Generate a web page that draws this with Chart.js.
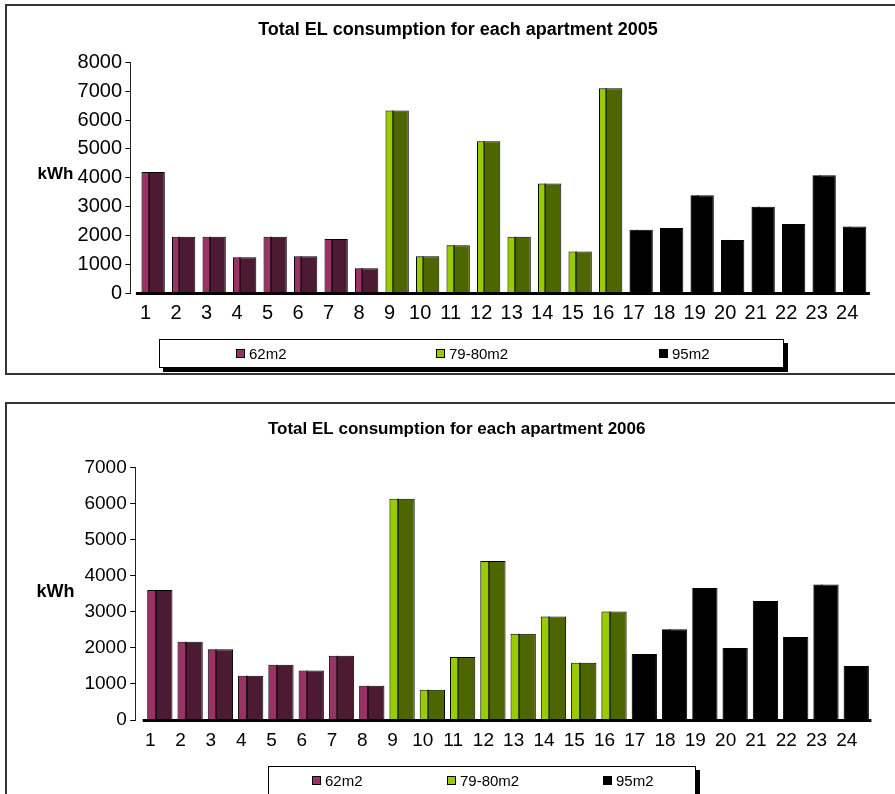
<!DOCTYPE html>
<html>
<head>
<meta charset="utf-8">
<title>Total EL consumption for each apartment</title>
<script src="https://cdn.jsdelivr.net/npm/chart.js@4.4.1/dist/chart.umd.min.js"></script>
<style>
  html, body { margin: 0; padding: 0; background: #fff; }
  body { width: 895px; height: 794px; overflow: hidden; position: relative;
         font-family: 'Liberation Sans', Arial, sans-serif; }
  .frame { position: absolute; left: 5px; width: 1000px; border: 2px solid #333;
           border-right: none; box-sizing: border-box; }
  #frame2005 { top: 4px; height: 371px; }
  #frame2006 { top: 402px; height: 500px; }
  canvas { position: absolute; left: 0; }
  .legend { position: absolute; border: 1px solid #000; background: #fff;
            box-shadow: 4px 4px 0 #000; box-sizing: border-box; }
  .legend .item { position: absolute; top: 0; height: 100%; display: flex; align-items: center;
                  font-size: 15px; color: #000; white-space: nowrap; }
  .legend .sw { width: 9px; height: 9px; border: 1px solid #000; box-sizing: border-box;
                margin-right: 4px; }
</style>
</head>
<body>
<div class="frame" id="frame2005"></div>
<div class="frame" id="frame2006"></div>
<canvas id="c2005" width="895" height="375" style="top:0"></canvas>
<canvas id="c2006" width="895" height="391" style="top:403px"></canvas>
<div class="legend" id="leg2005" style="left:159px;top:339px;width:625px;height:29px"></div>
<div class="legend" id="leg2006" style="left:268px;top:766px;width:428px;height:29px"></div>

<script>
// Apartment numbers along the x axis
const apartments = ['1','2','3','4','5','6','7','8','9','10','11','12',
                    '13','14','15','16','17','18','19','20','21','22','23','24'];

// Apartment size groups (8 apartments each, in order)
const groupLabels = ['62m2', '79-80m2', '95m2'];
const groupFace   = ['#993366', '#99cc00', '#000000'];
const groupSide   = ['#4d1a33', '#4d6600', '#000000'];

// Yearly electricity use, kWh
const el2005_62m2    = [4200, 1960, 1960, 1250, 1960, 1280, 1880, 870];
const el2005_79_80m2 = [6330, 1280, 1660, 5270, 1960, 3800, 1450, 7100];
const el2005_95m2    = [2200, 2260, 3400, 1850, 3000, 2400, 4090, 2310];

const el2006_62m2    = [3610, 2170, 1960, 1230, 1530, 1370, 1780, 950];
const el2006_79_80m2 = [6140, 840, 1750, 4410, 2390, 2870, 1590, 3010];
const el2006_95m2    = [1830, 2520, 3660, 2000, 3300, 2300, 3760, 1500];

const FONT = "'Liberation Sans', Arial, sans-serif";

function buildDatasets(groups) {
  return groups.map((vals, g) => ({
    label: groupLabels[g],
    data: vals.map((v, i) => ({ x: apartments[g * 8 + i], y: v })),
    backgroundColor: groupSide[g],
    faceColor: groupFace[g],
    borderColor: '#000',
    borderWidth: 1,
    grouped: false
  }));
}

// Pseudo-3D columns: shifted back by a depth offset, light front strip, floor edge
const depthPlugin = {
  id: 'depth',
  beforeDatasetsDraw(chart, args, opts) {
    chart.ctx.save();
    chart.ctx.translate(opts.shift || 0, 0);
  },
  afterDatasetDraw(chart, args, opts) {
    const ds = chart.data.datasets[args.index];
    const ctx = chart.ctx;
    args.meta.data.forEach(bar => {
      const { x, y, base, width } = bar.getProps(['x', 'y', 'base', 'width'], true);
      const left = x - width / 2;
      const sw = Math.round(width * opts.strip);
      ctx.fillStyle = ds.faceColor;
      ctx.fillRect(left + 1, y + 1, sw - 1, base - y - 1);
      ctx.strokeStyle = '#000';
      ctx.lineWidth = 1;
      ctx.beginPath();
      ctx.moveTo(Math.round(left + sw) + 0.5, y);
      ctx.lineTo(Math.round(left + sw) + 0.5, base);
      ctx.stroke();
    });
  },
  afterDatasetsDraw(chart) {
    const ctx = chart.ctx;
    const a = chart.chartArea;
    const y0 = chart.scales.y.getPixelForValue(0);
    ctx.fillStyle = '#000';
    ctx.fillRect(a.left - 2, Math.round(y0) - 1, a.right - a.left + 2, 3);
    ctx.restore();
  }
};

// Horizontal unit label beside the value axis
const unitLabel = {
  id: 'unitLabel',
  afterDraw(chart, args, opts) {
    const ctx = chart.ctx;
    const a = chart.chartArea;
    ctx.save();
    ctx.font = 'bold ' + opts.size + 'px ' + FONT;
    ctx.fillStyle = '#000';
    ctx.textAlign = 'center';
    ctx.textBaseline = 'middle';
    ctx.fillText(opts.text, opts.x, (a.top + a.bottom) / 2 + opts.dy);
    ctx.restore();
  }
};

function makeChart(id, cfg) {
  return new Chart(document.getElementById(id), {
    type: 'bar',
    data: { labels: apartments, datasets: buildDatasets(cfg.groups) },
    plugins: [depthPlugin, unitLabel],
    options: {
      responsive: false,
      animation: false,
      events: [],
      layout: { padding: { left: cfg.padLeft, right: cfg.padRight, top: 0, bottom: 0 } },
      datasets: { bar: { barPercentage: cfg.barPct, categoryPercentage: 1 } },
      plugins: {
        legend: { display: false },
        tooltip: { enabled: false },
        title: {
          display: true, text: cfg.title, color: '#000',
          font: { family: FONT, size: cfg.titleSize, weight: 'bold', lineHeight: 1.2 },
          padding: { top: cfg.titlePadTop, bottom: cfg.titlePadBottom }
        },
        depth: { shift: cfg.shift, strip: 0.31 },
        unitLabel: { text: 'kWh', size: cfg.unitSize, x: 55.5, dy: cfg.unitDy }
      },
      scales: {
        x: {
          grid: { display: false, drawTicks: false },
          border: { display: false },
          ticks: { color: '#000', font: { family: FONT, size: cfg.tickSize, lineHeight: 1.2 },
                   padding: cfg.xPad, autoSkip: false, maxRotation: 0 },
          afterFit: s => { s.height = cfg.xHeight; }
        },
        y: {
          min: 0, max: cfg.yMax,
          ticks: { stepSize: 1000, color: '#000', font: { family: FONT, size: cfg.tickSize },
                   padding: cfg.yPad, callback: v => String(v) },
          grid: { drawOnChartArea: false, drawTicks: true, tickLength: 5, color: '#000' },
          border: { display: true, color: '#222', width: 1 },
          afterFit: s => { s.width = cfg.yWidth; }
        }
      }
    }
  });
}

function buildLegend(chart, el, offsets) {
  chart.data.datasets.forEach((ds, i) => {
    const item = document.createElement('div');
    item.className = 'item';
    item.style.left = offsets[i] + 'px';
    const sw = document.createElement('span');
    sw.className = 'sw';
    sw.style.background = ds.faceColor;
    const tx = document.createElement('span');
    tx.textContent = ds.label;
    item.appendChild(sw);
    item.appendChild(tx);
    el.appendChild(item);
  });
}

const chart2005 = makeChart('c2005', {
  groups: [el2005_62m2, el2005_79_80m2, el2005_95m2],
  title: 'Total EL consumption for each apartment 2005',
  titleSize: 18, titlePadTop: 19.2, titlePadBottom: 21.5,
  padLeft: 53.6, padRight: 32.6, yWidth: 76.8, xHeight: 81.7,
  yMax: 8000, tickSize: 20, xPad: 8, yPad: 3.4,
  barPct: 0.765, shift: 7.5, unitSize: 17, unitDy: -3.8
});

const chart2006 = makeChart('c2006', {
  groups: [el2006_62m2, el2006_79_80m2, el2006_95m2],
  title: 'Total EL consumption for each apartment 2006',
  titleSize: 17, titlePadTop: 16.1, titlePadBottom: 28.2,
  padLeft: 51.5, padRight: 33.1, yWidth: 83.7, xHeight: 74,
  yMax: 7000, tickSize: 19, xPad: 9.6, yPad: 3.5,
  barPct: 0.835, shift: 9.5, unitSize: 18, unitDy: -2.2
});

buildLegend(chart2005, document.getElementById('leg2005'), [76, 276, 499]);
buildLegend(chart2006, document.getElementById('leg2006'), [43, 178, 334]);
</script>
</body>
</html>
